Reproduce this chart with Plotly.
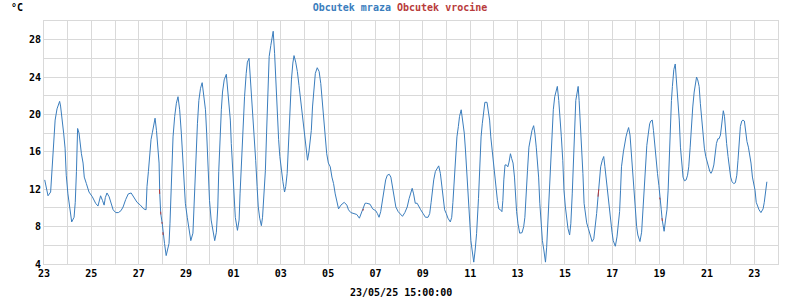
import pandas as pd
import plotly.graph_objects as go

START = pd.Timestamp("2025-04-23 00:00")
END = pd.Timestamp("2025-05-24 00:00")

# time in days since 23/04/25 00:00
day_offsets = [
    0.03, 0.17, 0.28, 0.35, 0.41, 0.47, 0.55, 0.66, 0.70, 0.76, 0.83, 0.89, 0.94, 1.01, 1.09, 1.17, 1.27, 1.32, 1.37, 1.42,
    1.48, 1.52, 1.58, 1.65, 1.70, 1.79, 1.90, 2.04, 2.18, 2.28, 2.39, 2.47, 2.54, 2.59, 2.66, 2.75, 2.85, 2.92, 3.03, 3.14,
    3.25, 3.34, 3.45, 3.56, 3.68, 3.79, 3.93, 4.07, 4.21, 4.31, 4.35, 4.41, 4.47, 4.52, 4.58, 4.65, 4.69, 4.75, 4.80, 4.86,
    4.89, 4.93, 4.99, 5.03, 5.09, 5.16, 5.23, 5.28, 5.32, 5.37, 5.41, 5.45, 5.52, 5.59, 5.66, 5.73, 5.80, 5.86, 5.92, 5.97,
    6.05, 6.12, 6.20, 6.29, 6.33, 6.37, 6.43, 6.48, 6.54, 6.61, 6.68, 6.75, 6.82, 6.87, 6.93, 6.99, 7.06, 7.13, 7.21, 7.28,
    7.34, 7.38, 7.43, 7.49, 7.54, 7.61, 7.70, 7.75, 7.81, 7.87, 7.91, 7.96, 8.02, 8.08, 8.17, 8.24, 8.28, 8.34, 8.40, 8.47,
    8.54, 8.59, 8.66, 8.72, 8.77, 8.83, 8.89, 8.94, 9.00, 9.05, 9.11, 9.18, 9.23, 9.29, 9.35, 9.40, 9.46, 9.51, 9.58, 9.64,
    9.68, 9.74, 9.79, 9.85, 9.91, 9.96, 10.03, 10.09, 10.16, 10.21, 10.27, 10.32, 10.38, 10.45, 10.51, 10.56, 10.63, 10.70, 10.77, 10.84,
    10.91, 10.98, 11.04, 11.09, 11.13, 11.19, 11.23, 11.29, 11.34, 11.40, 11.46, 11.54, 11.62, 11.69, 11.75, 11.82, 11.87, 11.94, 12.01,
    12.09, 12.16, 12.23, 12.30, 12.37, 12.44, 12.54, 12.68, 12.79, 12.86, 12.96, 13.10, 13.21, 13.32, 13.42, 13.49, 13.56, 13.63, 13.77, 13.88,
    14.01, 14.08, 14.15, 14.22, 14.29, 14.36, 14.43, 14.50, 14.58, 14.65, 14.72, 14.79, 14.86, 14.96, 15.06, 15.14, 15.24, 15.34, 15.42, 15.49,
    15.55, 15.61, 15.68, 15.76, 15.84, 15.91, 16.01, 16.11, 16.22, 16.29, 16.35, 16.40, 16.46, 16.53, 16.60, 16.67, 16.74, 16.81, 16.87, 16.92,
    16.99, 17.06, 17.16, 17.22, 17.27, 17.33, 17.38, 17.44, 17.50, 17.55, 17.62, 17.69, 17.75, 17.80, 17.86, 17.92, 17.97, 18.03, 18.08, 18.15,
    18.21, 18.27,
    18.35, 18.40, 18.46, 18.51, 18.57, 18.62, 18.71, 18.76, 18.82, 18.87, 18.93, 18.99, 19.04, 19.10, 19.15, 19.21, 19.28, 19.34, 19.38, 19.42,
    19.47, 19.53, 19.59, 19.64, 19.70, 19.75, 19.81, 19.87, 19.91, 19.96, 20.02, 20.09, 20.19, 20.26, 20.31, 20.37, 20.42, 20.48, 20.54, 20.61,
    20.68, 20.73, 20.79, 20.84, 20.89, 20.94, 21.00, 21.05, 21.11, 21.18, 21.23, 21.29, 21.35, 21.40, 21.46, 21.51, 21.57, 21.63, 21.68, 21.74,
    21.79, 21.85, 21.91, 21.96, 22.02, 22.07, 22.13, 22.20, 22.25, 22.31, 22.37, 22.42, 22.46, 22.52, 22.56, 22.60, 22.65, 22.70, 22.76, 22.81,
    22.87, 22.92, 22.99, 23.06, 23.15, 23.22, 23.29, 23.34, 23.40, 23.46, 23.51, 23.58, 23.64, 23.69, 23.75, 23.80, 23.86, 23.92, 23.99, 24.04,
    24.13, 24.20, 24.25, 24.31, 24.35, 24.39,
    24.47, 24.52, 24.58, 24.63, 24.69, 24.75, 24.80, 24.86, 24.92, 24.97, 25.03, 25.08, 25.17, 25.24, 25.29, 25.35, 25.41, 25.46, 25.52, 25.58,
    25.63, 25.69, 25.74, 25.80, 25.86, 25.91, 25.97, 26.01, 26.07, 26.11, 26.15, 26.19, 26.25, 26.31, 26.36, 26.40, 26.45, 26.50, 26.54, 26.60,
    26.66, 26.71, 26.77, 26.83, 26.88, 26.94, 26.99, 27.05, 27.12, 27.18, 27.23, 27.29, 27.35, 27.40, 27.46, 27.51, 27.56, 27.61, 27.67, 27.72,
    27.78, 27.84, 27.89, 27.95, 28.01, 28.06, 28.12, 28.17, 28.23, 28.29, 28.34, 28.40, 28.46, 28.51, 28.57, 28.61, 28.67, 28.69, 28.74, 28.78,
    28.83, 28.89, 28.95, 29.00, 29.06, 29.13, 29.20, 29.26, 29.31, 29.35, 29.41, 29.47, 29.52, 29.58, 29.63, 29.69, 29.75, 29.80, 29.86, 29.92,
    29.97, 30.03, 30.08, 30.14, 30.20, 30.28, 30.37, 30.42, 30.48, 30.53,
]

# "Obcutek mraza" (wind chill), degrees C
feels_cold = [
    13.0, 11.3, 11.7, 15.1, 17.6, 19.4, 20.6, 21.4, 20.9, 19.8, 18.0, 16.4, 13.5, 11.5, 9.8, 8.5, 9.0, 10.6, 13.9, 18.5,
    18.0, 16.9, 15.8, 14.8, 13.3, 12.6, 11.7, 11.2, 10.5, 10.2, 11.3, 10.8, 10.3, 11.1, 11.6, 11.2, 10.5, 9.8, 9.5, 9.5,
    9.7, 10.1, 10.9, 11.5, 11.6, 11.1, 10.6, 10.3, 9.9, 9.8, 12.3, 13.9, 15.8, 17.3, 18.1, 19.2, 19.6, 18.3, 16.9, 14.8,
    11.5, 9.4, 8.4, 7.3, 6.2, 4.9, 5.5, 6.2, 8.3, 11.5, 15.1, 17.6, 19.8, 21.2, 21.9, 20.5, 18.0, 15.6, 13.0, 10.5,
    9.0, 7.6, 6.5, 7.3, 9.8, 13.1, 16.5, 19.0, 21.5, 22.8, 23.4, 21.9, 20.5, 18.0, 13.7, 10.8, 8.7, 7.6, 6.5, 7.4,
    10.1, 13.9, 17.4, 20.5, 22.4, 23.7, 24.3, 22.8, 21.2, 19.4, 16.9, 14.4, 11.2, 9.0, 7.6, 8.7, 11.5, 15.1, 19.0, 21.9,
    24.4, 25.6, 26.0, 23.9, 21.5, 19.8, 17.8, 15.1, 12.3, 10.1, 8.9, 8.1, 9.0, 11.2, 14.0, 18.0, 23.0, 26.2, 27.4, 28.3,
    28.9, 26.5, 23.3, 19.8, 17.3, 15.5, 13.7, 12.8, 11.7, 12.3, 13.7, 16.9, 20.5, 23.7, 25.5, 26.3, 25.6, 24.6, 23.1, 21.5,
    19.8, 18.5, 17.3, 15.8, 15.1, 16.0, 16.7, 18.3, 20.8, 23.0, 24.4, 25.0, 24.6, 23.3, 21.5, 18.7, 17.3, 15.8, 14.8,
    14.4, 13.3, 12.6, 11.5, 10.6, 9.9, 10.3, 10.6, 10.3, 9.8, 9.5, 9.4, 9.3, 8.9, 9.5, 9.9, 10.5, 10.5, 10.4, 9.9,
    9.7, 9.4, 9.0, 9.6, 10.8, 12.1, 13.0, 13.5, 13.6, 13.3, 12.3, 11.0, 10.1, 9.6, 9.3, 9.1, 9.5, 10.1, 11.0, 11.7,
    12.1, 11.5, 10.5, 10.5, 10.2, 9.8, 9.4, 9.0, 9.0, 9.4, 10.6, 11.9, 13.0, 13.9, 14.2, 14.5, 13.7, 12.4, 11.2, 9.8,
    9.4, 8.9, 8.5, 9.0, 10.6, 13.0, 15.8, 17.6, 18.7, 19.8, 20.5, 19.4, 18.0, 16.2, 13.7, 11.2, 8.4, 6.5, 5.5, 4.2,
    5.5, 7.25,
    11.0, 15.1, 17.6, 19.0, 20.6, 21.3, 21.3, 20.5, 19.4, 17.6, 16.0, 14.4, 13.1, 11.9, 10.8, 9.9, 9.8, 9.6, 10.8, 13.0,
    14.6, 14.6, 14.4, 14.9, 15.8, 15.3, 14.8, 13.3, 11.5, 9.6, 8.3, 7.3, 7.35, 8.0, 9.0, 11.2, 14.0, 16.5, 17.6, 18.3,
    18.8, 18.0, 16.5, 15.1, 13.3, 10.5, 8.3, 6.5, 5.5, 4.2, 5.8, 9.0, 12.3, 15.5, 18.3, 20.5, 21.9, 22.6, 23.0, 21.5,
    20.1, 17.6, 15.1, 11.9, 10.1, 8.9, 7.8, 7.1, 8.3, 11.5, 15.1, 19.0, 21.5, 22.4, 23.0, 21.5, 19.4, 16.5, 13.7, 10.5,
    9.0, 8.4, 7.8, 7.1, 6.4, 6.7, 8.0, 9.4, 11.2, 12.6, 14.4, 15.1, 15.5, 14.4, 13.0, 11.5, 9.9, 8.5, 7.4, 6.5,
    5.9, 6.9, 8.3, 9.6, 11.9, 14.4,
    16.0, 16.9, 17.6, 18.1, 18.6, 17.8, 16.0, 13.9, 11.7, 9.4, 8.0, 7.1, 6.4, 7.4, 9.6, 12.3, 14.8, 16.7, 17.9, 19.0,
    19.3, 19.4, 18.3, 16.5, 15.1, 13.7, 12.4, 11.0, 9.8, 8.7, 7.8, 7.5, 8.7, 9.8, 11.9, 15.1, 18.3, 21.5, 23.0, 24.8,
    25.4, 23.7, 21.2, 19.4, 16.5, 14.8, 13.3, 12.9, 13.0, 13.5, 14.4, 16.5, 19.4, 20.8, 22.4, 23.5, 24.0, 23.7, 23.0, 21.2,
    19.4, 17.4, 16.4, 15.5, 14.9, 14.4, 13.9, 13.7, 14.0, 14.6, 15.8, 16.9, 17.4, 17.4, 17.8, 18.9, 19.8, 20.4, 19.8, 18.3,
    16.9, 15.5, 14.0, 13.3, 12.8, 12.6, 12.7, 13.5, 15.1, 16.5, 18.7, 19.3, 19.4, 19.3, 18.0, 17.1, 16.5, 15.8, 14.8, 13.3,
    12.6, 11.9, 10.6, 10.1, 9.8, 9.5, 9.9, 10.6, 12.1, 12.8,
]

# "Obcutek vrocine" (heat index): only a few short pieces are visible
hot_day_offsets = [4.875, 4.887, None, 4.925, 4.935, None, 4.98, 4.99, None, 5.02, 5.03, None,
                   13.47, 13.49, None, 23.40, 23.43, None, 26.00, 26.02, None, 26.10, 26.12]
feels_hot = [12.0, 11.5, None, 9.6, 9.3, None, 8.5, 8.3, None, 7.4, 7.1, None,
             9.7, 9.9, None, 11.2, 12.0, None, 11.1, 10.9, None, 8.9, 8.6]

x_labels_date = "23/05/25 15:00:00"
y_unit = "°C"
name_cold = "Obcutek mraza"
name_hot = "Obcutek vrocine"

BLUE = "#3a7dbd"
RED = "#b83b3b"
GRID = "#d9d9d9"
FONT = "DejaVu Sans Mono"

x_cold = [START + pd.Timedelta(days=d) for d in day_offsets]
x_hot = [None if d is None else START + pd.Timedelta(days=d) for d in hot_day_offsets]

fig = go.Figure()
fig.add_trace(go.Scatter(x=x_cold, y=feels_cold, mode="lines", name=name_cold,
                         line=dict(color=BLUE, width=1)))
fig.add_trace(go.Scatter(x=x_hot, y=feels_hot, mode="lines", name=name_hot,
                         line=dict(color=RED, width=1), connectgaps=False))

tickfont = dict(family=FONT, size=10, color="#000000", weight="bold")

fig.update_layout(
    width=800, height=300,
    margin=dict(l=44, r=22, t=21, b=36),
    paper_bgcolor="white", plot_bgcolor="white",
    showlegend=False,
    title=dict(
        text=f"<span style='color:{BLUE}'>{name_cold}</span> <span style='color:{RED}'>{name_hot}</span>",
        x=0.5, xref="container", xanchor="center",
        y=1 - 7 / 300, yref="container", yanchor="middle",
        font=dict(family=FONT, size=10, weight="bold"),
    ),
    xaxis=dict(
        type="date", range=[START, END],
        tick0=START, dtick=2 * 86400000, tickformat="%d",
        showgrid=True, gridcolor=GRID, gridwidth=1,
        minor=dict(dtick=86400000, tick0=START, showgrid=True, gridcolor=GRID, gridwidth=1),
        showline=True, linecolor=GRID, linewidth=1, mirror=True,
        ticks="", zeroline=False, tickfont=tickfont,
    ),
    yaxis=dict(
        range=[4, 30], tick0=4, dtick=4,
        showgrid=True, gridcolor=GRID, gridwidth=1,
        minor=dict(dtick=2, tick0=4, showgrid=True, gridcolor=GRID, gridwidth=1),
        showline=True, linecolor=GRID, linewidth=1, mirror=True,
        ticks="", zeroline=False, tickfont=tickfont,
    ),
    annotations=[
        dict(text=y_unit, xref="paper", yref="paper", x=(9 - 44) / 734, y=(264 - 7) / 243,
             xanchor="left", yanchor="middle", showarrow=False,
             font=dict(family=FONT, size=10, color="#000000", weight="bold")),
        dict(text=x_labels_date, xref="paper", yref="paper", x=(401 - 44) / 734, y=(264 - 292) / 243,
             xanchor="center", yanchor="middle", showarrow=False,
             font=dict(family=FONT, size=10, color="#000000", weight="bold")),
    ],
)

fig.write_html("out.html")
